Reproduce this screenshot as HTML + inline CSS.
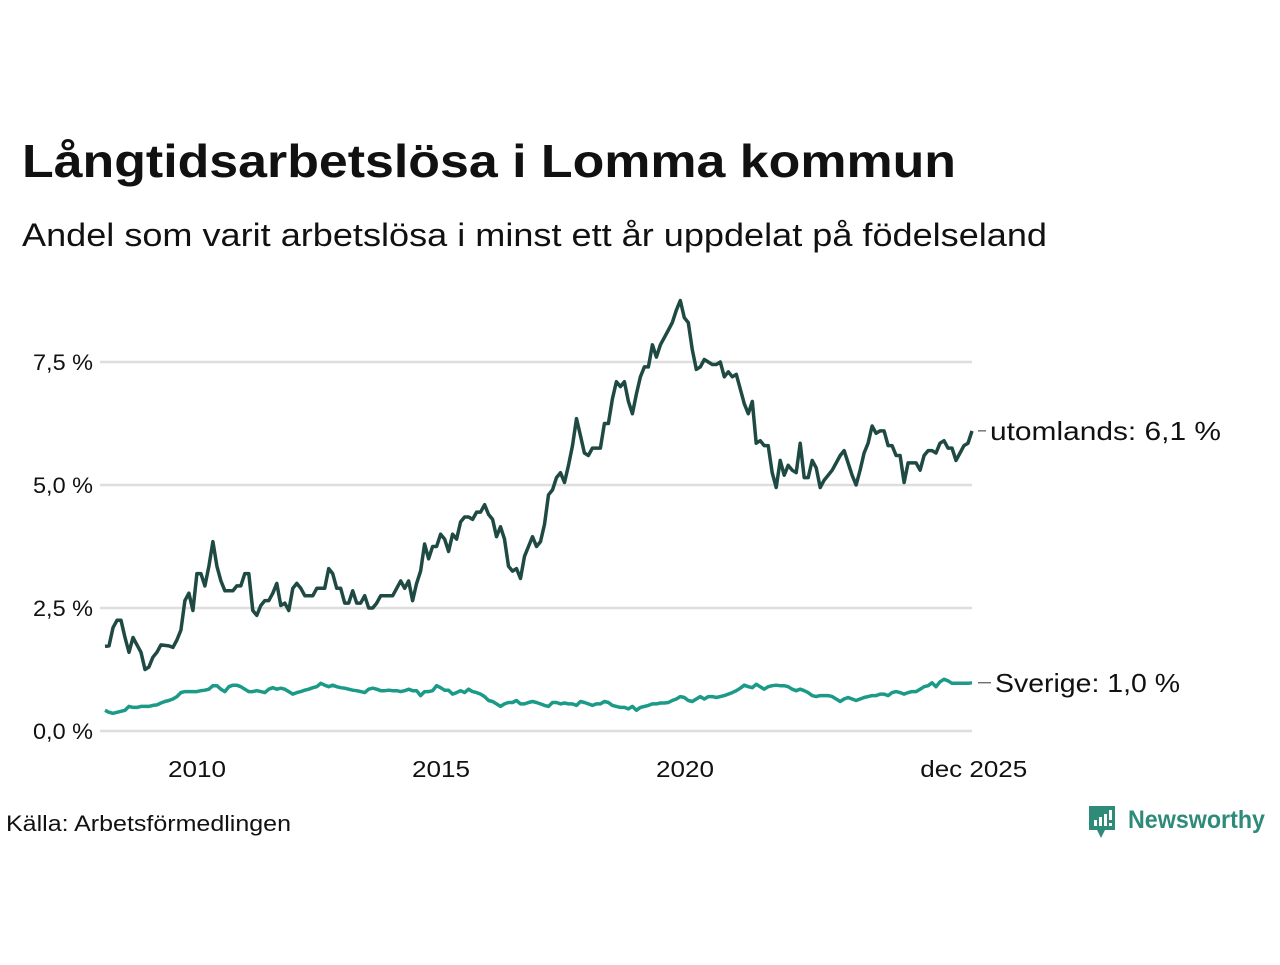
<!DOCTYPE html>
<html><head><meta charset="utf-8"><style>
body{margin:0;width:1280px;height:960px;background:#fff;font-family:"Liberation Sans",sans-serif;overflow:hidden}
</style></head><body>
<svg id="chart" width="1280" height="960" viewBox="0 0 1280 960" xmlns="http://www.w3.org/2000/svg" font-family="Liberation Sans, sans-serif">
<text x="22" y="177" font-size="46" font-weight="bold" fill="#111" textLength="934" lengthAdjust="spacingAndGlyphs">Långtidsarbetslösa i Lomma kommun</text>
<text x="22" y="246" font-size="32" fill="#111" textLength="1025" lengthAdjust="spacingAndGlyphs">Andel som varit arbetslösa i minst ett år uppdelat på födelseland</text>
<g id="grid"></g>
<g id="yticks"></g>
<g id="xticks"></g>
<g id="series"></g>
<text x="6" y="831" font-size="22" fill="#111" textLength="285" lengthAdjust="spacingAndGlyphs">Källa: Arbetsförmedlingen</text>
<g>
<path d="M1089 806 h26 v24 h-10 l-4 8 l-4 -8 h-8 z" fill="#2e8b7a"/>
<rect x="1094" y="820" width="3" height="6" fill="#fff"/><rect x="1099" y="817" width="3" height="9" fill="#fff"/><rect x="1104" y="814" width="3" height="12" fill="#fff"/><rect x="1109" y="810" width="3" height="10" fill="#fff"/><rect x="1109" y="823" width="3" height="3" fill="#fff"/>
<text x="1128" y="828" font-size="25" font-weight="bold" fill="#2e8b7a" textLength="137" lengthAdjust="spacingAndGlyphs">Newsworthy</text>
</g>
</svg>
<script>
const yTicks=[0,2.5,5,7.5];
const yTickLabels=["0,0 %","2,5 %","5,0 %","7,5 %"];
const xTickYears=[2010,2015,2020,2025.917];
const xTickLabels=["2010","2015","2020","dec 2025"];
const seriesNames=["utomlands","Sverige"];
const endLabels=["utomlands: 6,1 %","Sverige: 1,0 %"];
const utomlands=[1.72,1.73,2.1,2.25,2.25,1.9,1.6,1.9,1.75,1.6,1.25,1.3,1.5,1.6,1.75,1.74,1.73,1.7,1.85,2.05,2.65,2.8,2.45,3.2,3.2,2.95,3.35,3.85,3.35,3.05,2.85,2.85,2.85,2.95,2.95,3.2,3.2,2.45,2.35,2.55,2.65,2.65,2.8,3.0,2.55,2.6,2.45,2.9,3.0,2.9,2.75,2.75,2.75,2.9,2.9,2.9,3.3,3.2,2.9,2.9,2.6,2.6,2.85,2.6,2.6,2.75,2.5,2.5,2.6,2.75,2.75,2.75,2.75,2.9,3.05,2.9,3.05,2.65,3.0,3.25,3.8,3.5,3.75,3.75,4.0,3.9,3.65,4.0,3.9,4.25,4.35,4.35,4.3,4.45,4.45,4.6,4.4,4.3,3.95,4.15,3.9,3.35,3.25,3.3,3.1,3.55,3.75,3.95,3.75,3.85,4.2,4.8,4.9,5.15,5.25,5.05,5.4,5.8,6.35,6.0,5.65,5.6,5.75,5.75,5.75,6.25,6.25,6.75,7.1,7.0,7.1,6.7,6.45,6.85,7.2,7.4,7.4,7.85,7.6,7.85,8.0,8.15,8.3,8.55,8.75,8.4,8.3,7.75,7.35,7.4,7.55,7.5,7.45,7.45,7.5,7.2,7.3,7.2,7.25,6.95,6.65,6.45,6.7,5.85,5.9,5.8,5.8,5.25,4.95,5.5,5.2,5.4,5.3,5.25,5.85,5.15,5.15,5.5,5.35,4.95,5.1,5.2,5.3,5.45,5.6,5.7,5.45,5.2,5.0,5.3,5.65,5.85,6.2,6.05,6.1,6.1,5.8,5.8,5.6,5.6,5.05,5.45,5.45,5.45,5.3,5.6,5.7,5.7,5.65,5.85,5.9,5.75,5.75,5.5,5.65,5.8,5.85,6.1];
const sverige=[0.42,0.38,0.36,0.38,0.4,0.42,0.5,0.48,0.48,0.5,0.5,0.5,0.52,0.53,0.57,0.6,0.62,0.65,0.7,0.78,0.8,0.8,0.8,0.8,0.82,0.83,0.85,0.92,0.92,0.85,0.8,0.9,0.93,0.93,0.9,0.85,0.8,0.8,0.82,0.8,0.78,0.85,0.88,0.85,0.87,0.85,0.8,0.75,0.78,0.8,0.83,0.85,0.88,0.9,0.97,0.93,0.9,0.93,0.9,0.88,0.87,0.85,0.83,0.82,0.8,0.78,0.85,0.87,0.85,0.82,0.82,0.83,0.82,0.82,0.8,0.82,0.85,0.82,0.82,0.72,0.8,0.8,0.82,0.92,0.88,0.83,0.83,0.75,0.78,0.82,0.78,0.85,0.8,0.78,0.75,0.7,0.62,0.6,0.55,0.5,0.55,0.58,0.58,0.62,0.55,0.55,0.58,0.6,0.58,0.55,0.52,0.5,0.58,0.58,0.55,0.57,0.55,0.55,0.52,0.6,0.58,0.55,0.52,0.55,0.55,0.6,0.58,0.52,0.5,0.48,0.48,0.45,0.5,0.42,0.48,0.5,0.52,0.55,0.55,0.57,0.57,0.58,0.62,0.65,0.7,0.68,0.62,0.6,0.65,0.7,0.65,0.7,0.7,0.68,0.7,0.72,0.75,0.78,0.82,0.87,0.93,0.9,0.88,0.95,0.9,0.85,0.9,0.92,0.93,0.92,0.92,0.9,0.85,0.82,0.85,0.82,0.78,0.72,0.7,0.72,0.72,0.72,0.7,0.65,0.6,0.65,0.68,0.65,0.62,0.65,0.68,0.7,0.72,0.72,0.75,0.75,0.72,0.78,0.8,0.78,0.75,0.78,0.8,0.8,0.85,0.9,0.92,0.98,0.9,1.0,1.05,1.02,0.97,0.97,0.97,0.97,0.97,0.98];
const xTickWidths=[58,58,58,107];
const endLabelWidths=[231,185];
const NS="http://www.w3.org/2000/svg";
const X0=105,X1=972;
function y(v){return 731-v*49.2;}
function xYear(yr){return 197+(yr-2010)*48.8;}
function xIdx(i,n){return X0+i*(X1-X0)/(n-1);}
function mk(tag,attrs,parent){const e=document.createElementNS(NS,tag);for(const k in attrs)e.setAttribute(k,attrs[k]);parent.appendChild(e);return e;}
const grid=document.getElementById('grid'),yt=document.getElementById('yticks'),xt=document.getElementById('xticks'),sg=document.getElementById('series');
yTicks.forEach((v,i)=>{
 const l=mk('line',{x1:100,x2:972,y1:y(v),y2:y(v),stroke:'#dedede','stroke-width':2.5},grid);
 
 
 const t=mk('text',{x:93,y:y(v)+8,'font-size':22,'text-anchor':'end',fill:'#111',textLength:60,lengthAdjust:'spacingAndGlyphs'},yt);
 t.textContent=yTickLabels[i];
 
 
});
xTickYears.forEach((yr,i)=>{
 const t=mk('text',{x:xYear(yr)-xTickWidths[i]/2,y:777,'font-size':23,fill:'#111',textLength:xTickWidths[i],lengthAdjust:'spacingAndGlyphs'},xt);
 t.textContent=xTickLabels[i];
 
 
});
[[utomlands,'#1f4a44',990],[sverige,'#1a9a87',995]].forEach((s,k)=>{
 const arr=s[0],n=arr.length;
 const d=arr.map((v,i)=>(i?'L':'M')+xIdx(i,n).toFixed(1)+' '+y(v).toFixed(1)).join(' ');
 const p=mk('path',{d:d,fill:'none',stroke:s[1],'stroke-width':3.5,'stroke-linejoin':'round'},sg);
 
 
 const ly=y(arr[n-1]);
 mk('line',{x1:978,x2:s[2]-4,y1:ly,y2:ly,stroke:'#333','stroke-width':1},sg);
 const t=mk('text',{x:s[2],y:ly+9,'font-size':26,fill:'#111',textLength:endLabelWidths[k],lengthAdjust:'spacingAndGlyphs'},sg);
 t.textContent=endLabels[k];
 
 
});
</script>
</body></html>
